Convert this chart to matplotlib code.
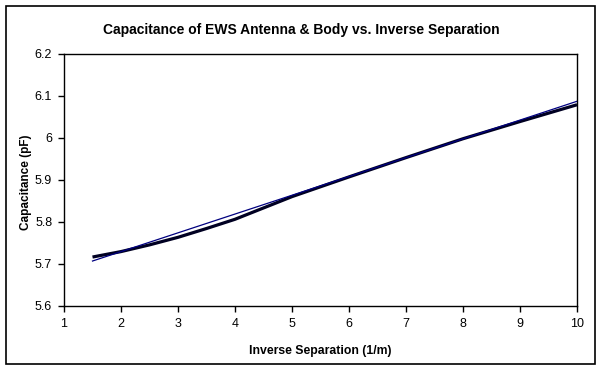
import numpy as np
import matplotlib
matplotlib.use("Agg")
import matplotlib.pyplot as plt
from matplotlib.patches import Rectangle

plt.rcParams['font.family'] = ['Liberation Sans', 'DejaVu Sans']

inv_sep = [1.5, 2, 2.5, 3, 3.5, 4, 5, 6, 7, 8, 9, 10]
capacitance = [5.716, 5.729, 5.745, 5.763, 5.784, 5.806, 5.860, 5.907, 5.953, 5.998, 6.039, 6.079]
# linear trendline (slope, intercept)
trend_coef = [0.0448, 5.6393]
x_ticks = [1, 2, 3, 4, 5, 6, 7, 8, 9, 10]
y_ticks = [5.6, 5.7, 5.8, 5.9, 6.0, 6.1, 6.2]
y_tick_labels = ["5.6", "5.7", "5.8", "5.9", "6", "6.1", "6.2"]

W, H = 602, 370
fig = plt.figure(figsize=(W / 100, H / 100), dpi=100)
ax = fig.add_axes([64 / W, (H - 305.7) / H, (577 - 64) / W, (305.7 - 54) / H])

ax.plot(inv_sep, capacitance, color='#000022', lw=2.3, solid_capstyle='butt', zorder=3)
xt = np.array([inv_sep[0], inv_sep[-1]])
ax.plot(xt, np.polyval(trend_coef, xt), color='#000080', lw=0.9, zorder=4)

ax.set_xlim(1, 10)
ax.set_ylim(5.6, 6.2)
ax.set_xticks(x_ticks)
ax.set_xticklabels([str(t) for t in x_ticks])
ax.set_yticks(y_ticks)
ax.set_yticklabels(y_tick_labels)
ax.tick_params(direction='out', length=4, width=1, labelsize=9, pad=4.5, colors='black')
for s in ax.spines.values():
    s.set_linewidth(1)
    s.set_color('black')

ax.set_xlabel("Inverse Separation (1/m)", fontsize=8.8, fontweight='bold')
ax.xaxis.set_label_coords(0.5, -(345 - 305.7) / (305.7 - 54))
ax.set_ylabel("Capacitance (pF)", fontsize=8.5, fontweight='bold', va='center')
ax.yaxis.set_label_coords((26.5 - 64) / (577 - 64), (305.7 - 182) / (305.7 - 54))
fig.text(301 / W, 1 - 30 / H, "Capacitance of EWS Antenna & Body vs. Inverse Separation",
         ha='center', va='center', fontsize=10, fontweight='bold')

fig.patches.append(Rectangle((5.5 / W, (H - 364) / H), (595 - 5.5) / W, (364 - 6) / H,
                             transform=fig.transFigure, fill=False, edgecolor='black', lw=1.2))

fig.savefig("out.png", dpi=100)
